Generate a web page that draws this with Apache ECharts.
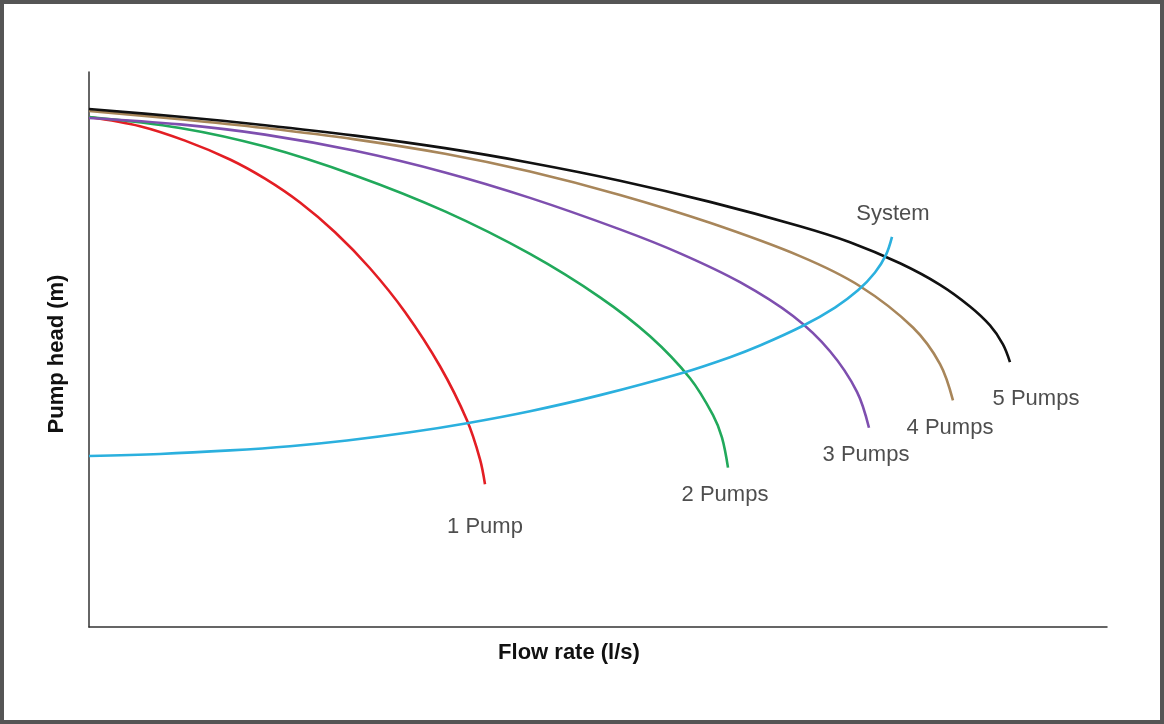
<!DOCTYPE html>
<html>
<head>
<meta charset="utf-8">
<script src="https://cdn.jsdelivr.net/npm/echarts@6/dist/echarts.min.js"></script>
<style>
  html, body { margin: 0; padding: 0; background: #fff; }
  .wrap { position: relative; width: 1164px; height: 724px; }
  #chart { width: 1164px; height: 724px; }
  .frame {
    position: absolute; left: 0; top: 0; width: 1164px; height: 724px;
    box-sizing: border-box; border: 4px solid #555; pointer-events: none;
  }
</style>
</head>
<body>
<div class="wrap">
  <div id="chart"></div>
  <div class="frame"></div>
</div>
<script>
// [flow rate, pump head]
const pump1 = [[0, 45.95], [5.01, 45.12], [9.43, 43.82], [13.85, 42.12], [17.29, 40.39], [20.73, 38.24], [24.17, 35.56], [27.6, 32.32], [31.04, 28.38], [34.48, 23.49], [37.13, 18.62], [38.41, 15.11], [38.9, 12.86]]
const pump2 = [[0, 45.95], [8.94, 44.96], [17.29, 43.28], [26.13, 40.68], [34.97, 37.44], [43.32, 33.61], [50.2, 29.7], [55.11, 26.19], [59.04, 22.41], [61.3, 19.09], [62.18, 17.06], [62.77, 14.36]]
const pump3 = [[0, 45.86], [8.94, 45.28], [17.29, 44.36], [26.13, 42.9], [34.97, 40.95], [43.32, 38.66], [52.16, 35.82], [58.06, 33.66], [63.95, 31.06], [69.16, 28.01], [72.79, 24.84], [75.44, 21.19], [76.62, 17.95]]
const pump4 = [[0, 46.49], [8.94, 45.75], [17.29, 44.95], [26.13, 43.93], [34.97, 42.63], [43.32, 41.03], [52.16, 38.92], [61.0, 36.41], [69.84, 33.41], [75.74, 30.7], [80.94, 26.98], [83.6, 23.69], [84.87, 20.41]]
const pump5 = [[0, 46.67], [8.94, 45.97], [17.29, 45.21], [26.13, 44.27], [34.97, 43.14], [43.32, 41.83], [52.16, 40.21], [61.0, 38.3], [69.84, 36.11], [74.75, 34.67], [79.67, 32.77], [83.6, 30.83], [86.54, 28.88], [88.51, 27.17], [89.78, 25.47], [90.47, 23.87]]
const system = [[0, 15.41], [6.97, 15.59], [13.85, 15.91], [19.74, 16.29], [25.34, 16.8], [31.53, 17.54], [37.13, 18.36], [43.32, 19.44], [50.2, 20.89], [58.35, 22.91], [62.97, 24.31], [65.91, 25.36], [70.14, 27.14], [73.28, 28.78], [75.54, 30.33], [77.21, 31.94], [78.29, 33.52], [78.88, 35.14]]

const seriesNames = ['1 Pump', '2 Pumps', '3 Pumps', '4 Pumps', '5 Pumps', 'System']
const seriesData = [pump1, pump2, pump3, pump4, pump5, system]
const seriesColors = ['#E31E24', '#21A95B', '#7E4FAF', '#A8865A', '#111111', '#2BB0DE']
// where each curve's name sits relative to its last point
const labelPlace = [
  { position: 'bottom', distance: 31, offset: [0, 0] },
  { position: 'bottom', distance: 16, offset: [-3, 0] },
  { position: 'bottom', distance: 16, offset: [-3, 0] },
  { position: 'bottom', distance: 16, offset: [-3, 0] },
  { position: 'bottom', distance: 25, offset: [26, 0] },
  { position: 'top', distance: 12, offset: [1, 0] }
]

const chart = echarts.init(document.getElementById('chart'))
const font = 'Liberation Sans, Arial, sans-serif'

const series = seriesNames.map((name, i) => ({
  name,
  type: 'line',
  data: seriesData[i],
  smooth: 0.35,
  showSymbol: false,
  symbol: 'none',
  lineStyle: { color: seriesColors[i], width: 2.6 },
  itemStyle: { color: seriesColors[i] },
  z: i === 5 ? 3 : 2
}))

// curve names, hung on the last point of each curve
series.push({
  name: 'labels',
  type: 'scatter',
  symbol: 'circle',
  symbolSize: 1,
  itemStyle: { color: 'rgba(0,0,0,0)' },
  silent: true,
  z: 5,
  data: seriesNames.map((name, i) => {
    const pts = seriesData[i]
    return {
      value: pts[pts.length - 1],
      label: {
        show: true,
        formatter: name,
        position: labelPlace[i].position,
        distance: labelPlace[i].distance,
        offset: labelPlace[i].offset,
        color: '#222',
        fontSize: 22,
        fontFamily: font
      }
    }
  })
})

const option = {
  backgroundColor: '#fff',
  animation: false,
  grid: { left: 89, right: 57, top: 72, bottom: 97 },
  xAxis: {
    type: 'value',
    min: 0,
    max: 100,
    name: 'Flow rate (l/s)',
    nameLocation: 'middle',
    nameGap: 15,
    nameTextStyle: { color: '#111', fontSize: 22, fontWeight: 'bold', fontFamily: font, padding: [0, 58, 0, 0] },
    axisLine: { lineStyle: { color: '#333', width: 1.5 } },
    axisTick: { show: false },
    axisLabel: { show: false },
    splitLine: { show: false }
  },
  yAxis: {
    type: 'value',
    min: 0,
    max: 50,
    name: 'Pump head (m)',
    nameLocation: 'middle',
    nameGap: 21,
    nameTextStyle: { color: '#111', fontSize: 22, fontWeight: 'bold', fontFamily: font, padding: [0, 9, 0, 0] },
    axisLine: { show: true, lineStyle: { color: '#333', width: 1.5 } },
    axisTick: { show: false },
    axisLabel: { show: false },
    splitLine: { show: false }
  },
  series
}

chart.setOption(option)
</script>
</body>
</html>
